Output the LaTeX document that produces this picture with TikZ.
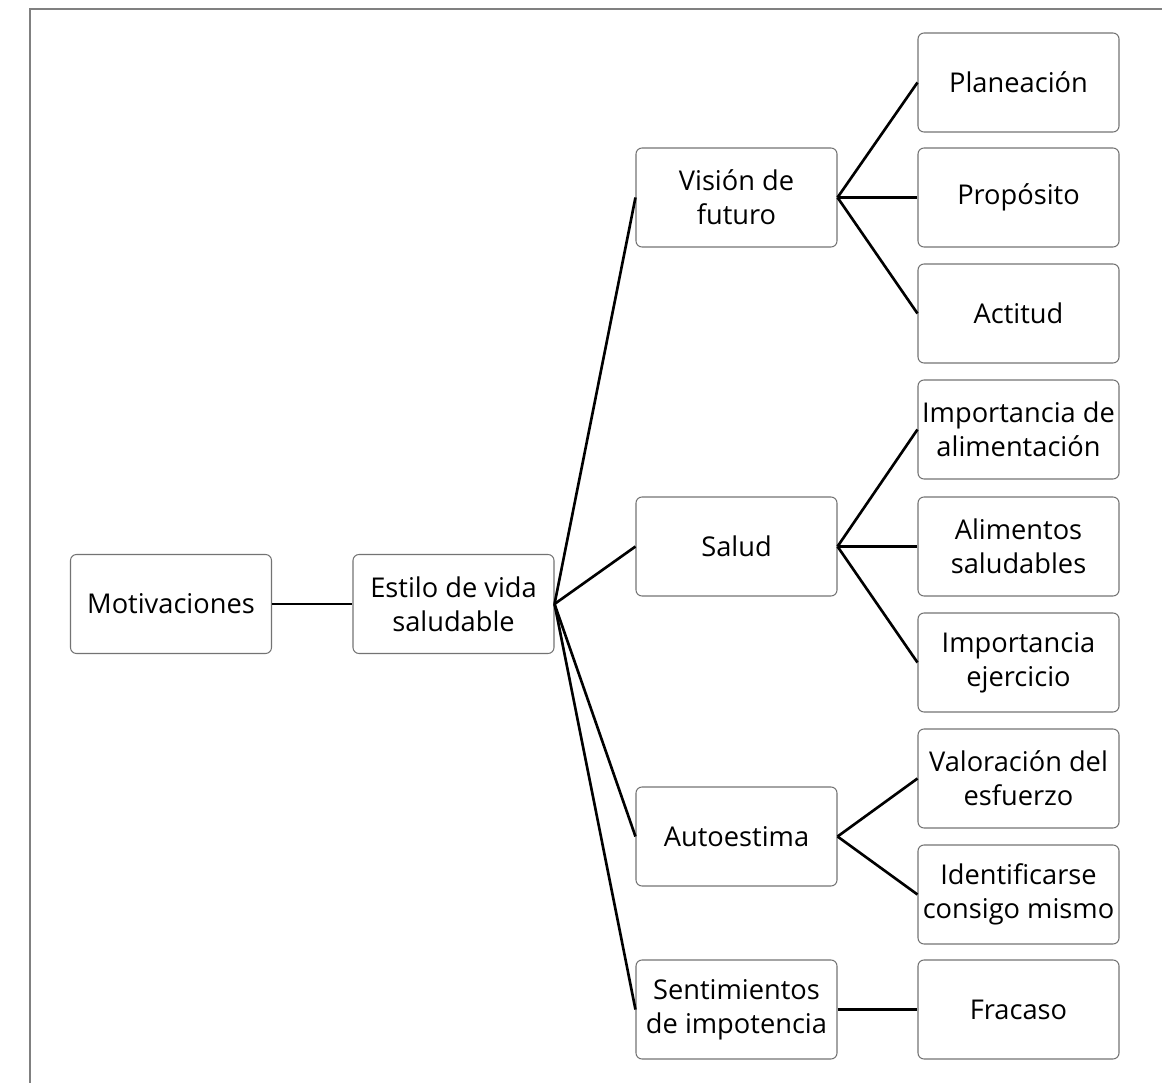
\documentclass[tikz,border=0pt]{standalone}
\usepackage{fontspec}
\setmainfont{Open Sans}
\usepackage{tikz}

\tikzset{
  caja/.style={draw=black!55, line width=0.6pt, rounded corners=0.12cm,
    minimum width=4.02cm, minimum height=1.98cm, inner sep=1pt,
    align=center, font=\fontsize{15.5}{19.4}\selectfont},
  rama/.style={line width=1.5pt, black}
}

\begin{document}
\begin{tikzpicture}
 \useasboundingbox (0,0) rectangle (23.24,-21.66);
 \draw[black!50, line width=1.2pt] (0.6,-21.7) -- (0.6,-0.18) -- (23.3,-0.18);

 \node[caja] (mot) at (3.42,-12.08) {Motivaciones};
 \node[caja] (est) at (9.07,-12.08) {Estilo de vida\\saludable};

 \node[caja] (vis) at (14.73,-3.95) {Visión de\\futuro};
 \node[caja] (sal) at (14.73,-10.93) {Salud};
 \node[caja] (aut) at (14.73,-16.73) {Autoestima};
 \node[caja] (sen) at (14.73,-20.19) {Sentimientos\\de impotencia};

 \node[caja] (pla) at (20.37,-1.65) {Planeación};
 \node[caja] (pro) at (20.37,-3.95) {Propósito};
 \node[caja] (act) at (20.37,-6.27) {Actitud};
 \node[caja] (ima) at (20.37,-8.59) {Importancia de\\alimentación};
 \node[caja] (ali) at (20.37,-10.93) {Alimentos\\saludables};
 \node[caja] (eje) at (20.37,-13.25) {Importancia\\ejercicio};
 \node[caja] (val) at (20.37,-15.57) {Valoración del\\esfuerzo};
 \node[caja] (ide) at (20.37,-17.89) {Identificarse\\consigo mismo};
 \node[caja] (fra) at (20.37,-20.19) {Fracaso};

 \draw[rama] (mot.east) -- (est.west);
 \foreach \h in {vis,sal,aut,sen}
   \draw[rama] (est.east) -- (\h.west);
 \foreach \h in {pla,pro,act}
   \draw[rama] (vis.east) -- (\h.west);
 \foreach \h in {ima,ali,eje}
   \draw[rama] (sal.east) -- (\h.west);
 \foreach \h in {val,ide}
   \draw[rama] (aut.east) -- (\h.west);
 \draw[rama] (sen.east) -- (fra.west);

\end{tikzpicture}
\end{document}
